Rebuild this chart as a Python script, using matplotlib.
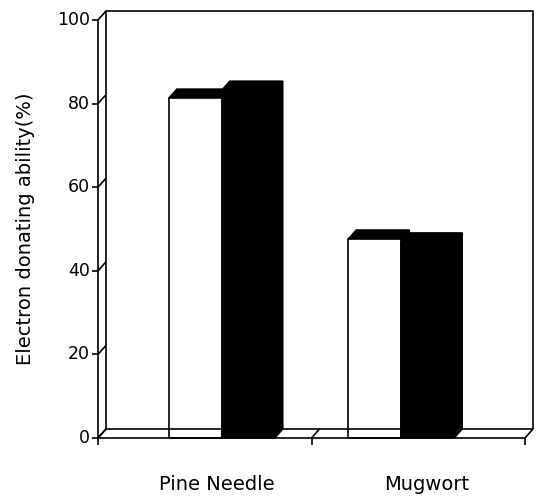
import matplotlib
matplotlib.use("Agg")
import matplotlib.pyplot as plt
from matplotlib.patches import Polygon

# ---- data ----
categories = ["Pine Needle", "Mugwort"]
white_vals = [81.3, 47.6]
black_vals = [83.2, 46.9]
y_ticks = [0, 20, 40, 60, 80, 100]
y_label = "Electron donating ability(%)"

# ---- layout / style ----
DPI = 100
W, H = 538, 496
AX_L, AX_R, AX_T, AX_B = 98, 525, 20, 438      # pixel frame of the front plane
XMIN, XMAX = -0.69, 1.69
BAR_W = 0.295
DEPTH_PX = (8, 9)
label_shift = [-0.03, 0.14]
LW = 1.2
FONT = "DejaVu Sans"

fig = plt.figure(figsize=(W / DPI, H / DPI), dpi=DPI)
ax = fig.add_axes([AX_L / W, (H - AX_B) / H, (AX_R - AX_L) / W, (AX_B - AX_T) / H])
ax.set_xlim(XMIN, XMAX)
ax.set_ylim(0, 100)
ax.axis("off")

px_x = (XMAX - XMIN) / (AX_R - AX_L)
px_y = 100 / (AX_B - AX_T)
ddx, ddy = DEPTH_PX[0] * px_x, DEPTH_PX[1] * px_y


def line(xs, ys, **kw):
    ax.plot(xs, ys, color="black", lw=kw.pop("lw", LW), clip_on=False,
            solid_capstyle="butt", **kw)


# back wall
line([XMIN + ddx, XMIN + ddx, XMAX + ddx, XMAX + ddx],
     [ddy, 100 + ddy, 100 + ddy, ddy])
# front value axis
line([XMIN, XMIN], [0, 100])
# side-wall stubs and ticks with labels
for v in y_ticks:
    line([XMIN, XMIN + ddx], [v, v + ddy])
    line([XMIN - 6 * px_x, XMIN], [v, v])
    ax.text(XMIN - 8 * px_x, v, str(v), ha="right", va="center",
            fontsize=12.5, family=FONT)

# floor
line([XMIN, XMAX], [0, 0])
line([XMIN + ddx, XMAX + ddx], [ddy, ddy])
for xb in [XMIN, 0.5, XMAX]:
    line([xb, xb + ddx], [0, ddy])
    line([xb, xb], [0, -7 * px_y])


def bar3d(x0, h, front_color):
    x1 = x0 + BAR_W
    top = [(x0, h), (x1, h), (x1 + ddx, h + ddy), (x0 + ddx, h + ddy)]
    side = [(x1, 0), (x1, h), (x1 + ddx, h + ddy), (x1 + ddx, ddy)]
    front = [(x0, 0), (x1, 0), (x1, h), (x0, h)]
    ax.add_patch(Polygon(side, closed=True, fc="black", ec="black", lw=LW, clip_on=False))
    ax.add_patch(Polygon(top, closed=True, fc="black", ec="black", lw=LW, clip_on=False))
    ax.add_patch(Polygon(front, closed=True, fc=front_color, ec="black", lw=LW,
                         clip_on=False, joinstyle="miter"))


for i, (wv, bv) in enumerate(zip(white_vals, black_vals)):
    bar3d(i - BAR_W, wv, "white")
    bar3d(i, bv, "black")

# category labels
for i, (cat, s) in enumerate(zip(categories, label_shift)):
    ax.text(i + s, -47 * px_y, cat, ha="center", va="center",
            fontsize=14, family=FONT)

# value-axis title
ax.text(-(AX_L - 26) / (AX_R - AX_L), 0.5, y_label, transform=ax.transAxes,
        rotation=90, ha="center", va="center", fontsize=14, family=FONT)

fig.savefig("out.png", dpi=DPI)
